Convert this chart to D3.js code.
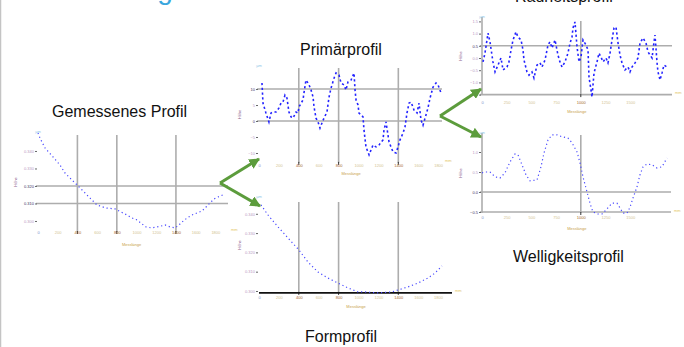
<!DOCTYPE html>
<html>
<head>
<meta charset="utf-8">
<script src="https://cdn.jsdelivr.net/npm/d3@7"></script>
<style>
  body { margin: 0; background: #fff; }
  svg { display: block; font-family: "Liberation Sans", Arial, sans-serif; }
</style>
</head>
<body>
<svg id="chart" width="684" height="347"></svg>
<script>
// ---- data (x in µm along the trace, y in panel units) ----
var xTicksLong = [0, 200, 400, 600, 800, 1000, 1200, 1400, 1600, 1800];
var xTicksShort = [0, 250, 500, 750, 1000, 1250, 1500];
var gemessenYTicks = [0, 10, 20, 30, 40];
var primaerYTicks = [-10, -5, 0, 5, 10];
var formYTicks = [0, 10, 20, 30, 40];
var rauheitYTicks = [-1.5, -1, -0.5, 0, 0.5, 1, 1.5];
var welligYTicks = [-0.5, 0, 0.5, 1];

var gemessen = [
  [0, 50.3], [20, 47.4], [71, 41.7], [152, 36.6], [223, 32], [274, 27.4], [345, 23.4],
  [396, 20.6], [467, 16.6], [528, 13.1], [599, 9.1], [690, 7.4], [782, 6.9], [843, 5.1],
  [904, 3.4], [954, 1.7], [1005, 0.6], [1056, -1.7], [1096, -3.4], [1157, -4], [1208, -3.4],
  [1249, -2.9], [1289, -2.3], [1340, -3.4], [1391, -4], [1431, -2.3], [1462, -0.6],
  [1513, 1.7], [1563, 3.4], [1614, 4.6], [1665, 5.7], [1706, 8], [1746, 10.3],
  [1787, 12.6], [1827, 13.7], [1878, 14.9]
];

var primaer = [
  [30, 11.9], [40, 5.6], [70, 2.5], [100, -0.3], [121, 2.5], [141, 2.8], [171, 2.8],
  [201, 4.1], [221, 5.6], [241, 5.9], [261, 8.1], [281, 7.2], [301, 2.8], [322, 1.3],
  [342, 0.9], [372, 2.8], [392, 2.5], [402, 4.4], [442, 6.6], [452, 8.8], [472, 12.8],
  [492, 11.9], [503, 11.3], [523, 9.7], [543, 7.5], [553, 4.4], [573, 0.9], [593, -0.3],
  [613, -2.2], [633, -0.6], [653, 0.9], [683, 2.8], [704, 7.5], [724, 10.3], [754, 13.4],
  [774, 15], [804, 14.4], [824, 11.9], [854, 11.3], [874, 9.7], [894, 12.2], [925, 12.8],
  [955, 15], [965, 9.7], [975, 6.6], [995, 5], [1005, 2.5], [1045, 1.3], [1055, -2.8],
  [1075, -8.1], [1106, -10.6], [1146, -7.5], [1176, -8.1], [1206, -7.5], [1246, -5.9],
  [1256, -2.8], [1276, -0.3], [1307, -6.6], [1347, -9.7], [1377, -10], [1397, -8.1],
  [1417, -5.9], [1447, -3.8], [1467, -1.9], [1487, 2.5], [1508, 5.6], [1528, 5.9],
  [1558, 3.4], [1588, 2.5], [1608, 5.6], [1628, 0.3], [1648, -1.3], [1678, 1.9],
  [1698, 4.1], [1719, 7.2], [1749, 10.6], [1779, 11.9], [1799, 11.3], [1829, 8.8]
];

var form = [
  [20, 44.6], [90, 39.4], [191, 33.2], [291, 27.5], [402, 21.2], [492, 15], [593, 9.8],
  [693, 6.7], [794, 4.1], [894, 1.6], [995, -0.5], [1065, -0.5], [1196, -1], [1337, -0.5],
  [1397, 0.5], [1497, 2.1], [1598, 4.1], [1698, 6.7], [1769, 9.3], [1839, 13]
];

var rauheit = [
  [10, -0.16], [30, 0.2], [61, 1.02], [81, 0.66], [111, -0.16], [132, -0.57], [162, -0.29],
  [192, 0], [213, -0.49], [253, -0.37], [273, -0.16], [294, 0.33], [314, 0.74], [344, 1.07],
  [364, 0.86], [395, 0.74], [415, 0.33], [425, -0.08], [455, -0.57], [476, -0.7], [506, -0.57],
  [526, -0.82], [557, -0.29], [587, -0.2], [607, -0.37], [638, -0.08], [668, 0.53], [688, 0.66],
  [709, 0.41], [739, 0.74], [769, 0.12], [789, -0.16], [810, -0.37], [840, -0.16], [870, 0.2],
  [891, 0.61], [911, 0.86], [921, 1.23], [941, 1.48], [962, 0.45], [982, -0.16], [1002, 0.04],
  [1022, 0.74], [1053, 0.53], [1073, 0.33], [1083, -0.78], [1103, -1.31], [1113, -1.6],
  [1134, -0.61], [1164, -0.16], [1184, 0.2], [1204, 0.04], [1225, -0.16], [1255, 0],
  [1275, -0.2], [1296, 0.2], [1316, 0.74], [1336, 1.23], [1356, 1.27], [1377, 0.61],
  [1397, 0.12], [1417, -0.2], [1447, -0.49], [1478, -0.37], [1498, -0.57], [1518, -0.37],
  [1549, -0.2], [1579, 0], [1599, 0.61], [1630, 0.82], [1660, 0.61], [1680, 0.25],
  [1721, 0], [1741, 0.66], [1751, 0.94], [1771, -0.16], [1781, -0.57], [1802, -0.9],
  [1822, -0.61], [1842, -0.29], [1872, -0.37]
];

var welligkeit = [
  [0, 0.48], [30, 0.5], [81, 0.5], [132, 0.38], [182, 0.35], [233, 0.48], [283, 0.75],
  [334, 0.95], [364, 0.93], [405, 0.68], [445, 0.43], [486, 0.28], [557, 0.3], [597, 0.63],
  [628, 0.98], [668, 1.3], [709, 1.43], [759, 1.43], [810, 1.38], [870, 1.35], [911, 1.23],
  [962, 1], [992, 0.73], [1022, 0.38], [1063, 0], [1093, -0.28], [1123, -0.5], [1174, -0.55],
  [1215, -0.55], [1255, -0.45], [1316, -0.28], [1366, -0.28], [1397, -0.4], [1427, -0.53],
  [1468, -0.53], [1498, -0.38], [1528, -0.15], [1569, 0.13], [1599, 0.43], [1630, 0.63],
  [1670, 0.7], [1721, 0.68], [1771, 0.6], [1822, 0.63], [1872, 0.85]
];

// ---- layout ----
var svg = d3.select("#chart");
var fmtX = d3.format("d");

var panels = [
  { title: "Gemessenes Profil", tx: 52, ty: 117, data: gemessen, style: "smooth",
    xDomain: [0, 1900], xRange: [38, 225.2], yDomain: [-6.3, 50.9], yRange: [232, 131.9],
    xTicks: xTicksLong, yTicks: gemessenYTicks, vGrid: [400, 800, 1400], hGrid: [10, 20],
    gridRight: 228, vTop: 135, xLabelY: 232.7, xTitleY: 246, yTitleX: 17,
    yFmt: function(d) { return d3.format(".3f")(d / 1000 + 0.3); } },
  { title: "Primärprofil", tx: 300, ty: 55, data: primaer, style: "rough",
    xDomain: [0, 1850], xRange: [259, 443.1], yDomain: [-13.1, 17.2], yRange: [162.9, 66],
    xTicks: xTicksLong, yTicks: primaerYTicks, vGrid: [400, 800, 1400], hGrid: [0, 10],
    gridRight: 442, vTop: 68, xLabelY: 165.5, xTitleY: 175, yTitleX: 241,
    yFmt: d3.format("d") },
  { title: "Formprofil", tx: 305, ty: 342, data: form, style: "smooth",
    xDomain: [0, 1950], xRange: [259, 453], yDomain: [-1, 48.7], yRange: [292.9, 197],
    xTicks: xTicksLong, yTicks: formYTicks, vGrid: [400, 800, 1400], hGrid: [],
    gridRight: 452, vTop: 202, xLabelY: 297.5, xTitleY: 308, yTitleX: 241, blackAxis: true,
    yFmt: function(d) { return d3.format(".3f")(d / 1000 + 0.3); } },
  { title: "Rauheitsprofil", tx: 515, ty: 2, data: rauheit, style: "rough",
    xDomain: [0, 1920], xRange: [482, 671.7], yDomain: [-1.52, 1.68], yRange: [95.1, 17],
    xTicks: xTicksShort, yTicks: rauheitYTicks, vGrid: [1000], hGrid: [-1.5, 0.5],
    gridRight: 672, vTop: 21, xLabelY: 103, xTitleY: 113, yTitleX: 462, yAxisLine: true,
    yFmt: d3.format(".1f") },
  { title: "Welligkeitsprofil", tx: 513, ty: 262, data: welligkeit, style: "smooth",
    xDomain: [0, 1920], xRange: [482, 671.7], yDomain: [-0.525, 1.475], yRange: [213, 133],
    xTicks: xTicksShort, yTicks: welligYTicks, vGrid: [1000], hGrid: [-0.5, 0],
    gridRight: 671, vTop: 135, xLabelY: 218, xTitleY: 230, yTitleX: 462, yAxisLine: true,
    yFmt: d3.format(".1f") }
];

// slide frame and cut-off heading (the reference slide is cropped at the top)
svg.append("line").attr("x1", 0.5).attr("x2", 0.5).attr("y1", 0).attr("y2", 347)
  .attr("stroke", "#c4c4c4").attr("stroke-width", 1.5);
svg.append("text").attr("x", 25).attr("y", -1).attr("font-size", 28)
  .attr("fill", "#3aa6dd").text("Auswertung der Rauheit");

panels.forEach(drawPanel);

function drawPanel(p) {
  var x = d3.scaleLinear().domain(p.xDomain).range(p.xRange);
  var y = d3.scaleLinear().domain(p.yDomain).range(p.yRange);
  var x0 = p.xRange[0], yb = p.yRange[0], yt = p.yRange[1];
  var g = svg.append("g");

  g.append("g").selectAll("line").data(p.hGrid).join("line")
    .attr("x1", x0 - 2).attr("x2", p.gridRight)
    .attr("y1", function(d) { return y(d); }).attr("y2", function(d) { return y(d); })
    .attr("stroke", "#adadad").attr("stroke-width", 1.6);

  g.append("g").selectAll("line").data(p.vGrid).join("line")
    .attr("x1", function(d) { return x(d); }).attr("x2", function(d) { return x(d); })
    .attr("y1", p.vTop).attr("y2", yb)
    .attr("stroke", "#adadad").attr("stroke-width", 1.6);

  // small dark marks where gridlines meet the axis
  g.append("g").selectAll("line").data(p.vGrid).join("line")
    .attr("x1", function(d) { return x(d); }).attr("x2", function(d) { return x(d); })
    .attr("y1", yb - 1).attr("y2", yb + 2).attr("stroke", "#333").attr("stroke-width", 1);

  if (p.yAxisLine) {
    g.append("line").attr("x1", x0).attr("x2", x0).attr("y1", yt).attr("y2", yb)
      .attr("stroke", "#adadad").attr("stroke-width", 1.6);
  }
  if (p.blackAxis) {
    g.append("line").attr("x1", x0).attr("x2", p.gridRight).attr("y1", yb).attr("y2", yb)
      .attr("stroke", "#111").attr("stroke-width", 1.6);
  }

  // tick labels (tiny, as in the pasted screenshots)
  var xa = g.append("g").attr("transform", "translate(0," + (p.xLabelY - 1.4) + ")")
    .call(d3.axisBottom(x).tickValues(p.xTicks).tickSize(0).tickPadding(0).tickFormat(fmtX));
  xa.select(".domain").remove();
  xa.attr("font-size", 4).attr("font-family", null);
  xa.selectAll("text").attr("fill", function(d) {
    return p.vGrid.indexOf(d) >= 0 ? "#a5652a" : (d === 0 ? "#7c8cc8" : "#d3c492");
  });

  var ya = g.append("g").attr("transform", "translate(" + (x0 - 1) + ",0)")
    .call(d3.axisLeft(y).tickValues(p.yTicks).tickSize(2).tickPadding(1).tickFormat(p.yFmt));
  ya.select(".domain").remove();
  ya.attr("font-size", 4).attr("font-family", null);
  ya.selectAll("line").attr("stroke", "#666");
  ya.selectAll("text").attr("fill", function(d) {
    return p.hGrid.indexOf(d) >= 0 ? "#3b2f63" : "#b79ac4";
  });

  // unit marks and axis titles
  g.append("text").attr("x", x0).attr("y", yt + 1).attr("font-size", 4)
    .attr("text-anchor", "middle").attr("fill", "#8fc6e8").text("µm");
  g.append("text").attr("x", p.gridRight + 3).attr("y", yb - 1).attr("font-size", 4)
    .attr("fill", "#e3c66a").text("mm");
  g.append("text").attr("x", (p.xRange[0] + p.xRange[1]) / 2).attr("y", p.xTitleY)
    .attr("font-size", 4).attr("text-anchor", "middle").attr("fill", "#c9a24a").text("Messlänge");
  g.append("text").attr("transform", "translate(" + p.yTitleX + "," + ((yb + yt) / 2) + ") rotate(-90)")
    .attr("font-size", 4).attr("text-anchor", "middle").attr("fill", "#8a5a8a").text("Höhe");

  var line = d3.line()
    .x(function(d) { return x(d[0]); })
    .y(function(d) { return y(d[1]); });

  var rough = p.style === "rough";
  g.append("path").datum(p.data).attr("d", line).attr("fill", "none")
    .attr("stroke", rough ? "#2323ff" : "#4a4aff")
    .attr("stroke-width", rough ? 1.6 : 1.2)
    .attr("stroke-dasharray", rough ? "2.2 2.6" : "1.2 2.8");

  svg.append("text").attr("x", p.tx).attr("y", p.ty).attr("font-size", 16)
    .attr("fill", "#111").text(p.title);
}

// green arrows between the panels
var arrows = [
  [220, 183, 259, 159], [220, 183, 260, 206],
  [440, 116, 481, 89], [440, 116, 481, 137]
];
var defs = svg.append("defs");
defs.append("marker").attr("id", "head").attr("viewBox", "0 0 10 10")
  .attr("refX", 9).attr("refY", 5).attr("markerWidth", 3.6).attr("markerHeight", 3.6)
  .attr("orient", "auto").attr("markerUnits", "strokeWidth")
  .append("path").attr("d", "M0,0L10,5L0,10Z").attr("fill", "#5c9c3c");
svg.append("g").selectAll("line").data(arrows).join("line")
  .attr("x1", function(d) { return d[0]; }).attr("y1", function(d) { return d[1]; })
  .attr("x2", function(d) { return d[2]; }).attr("y2", function(d) { return d[3]; })
  .attr("stroke", "#5c9c3c").attr("stroke-width", 3).attr("marker-end", "url(#head)");
</script>
</body>
</html>
